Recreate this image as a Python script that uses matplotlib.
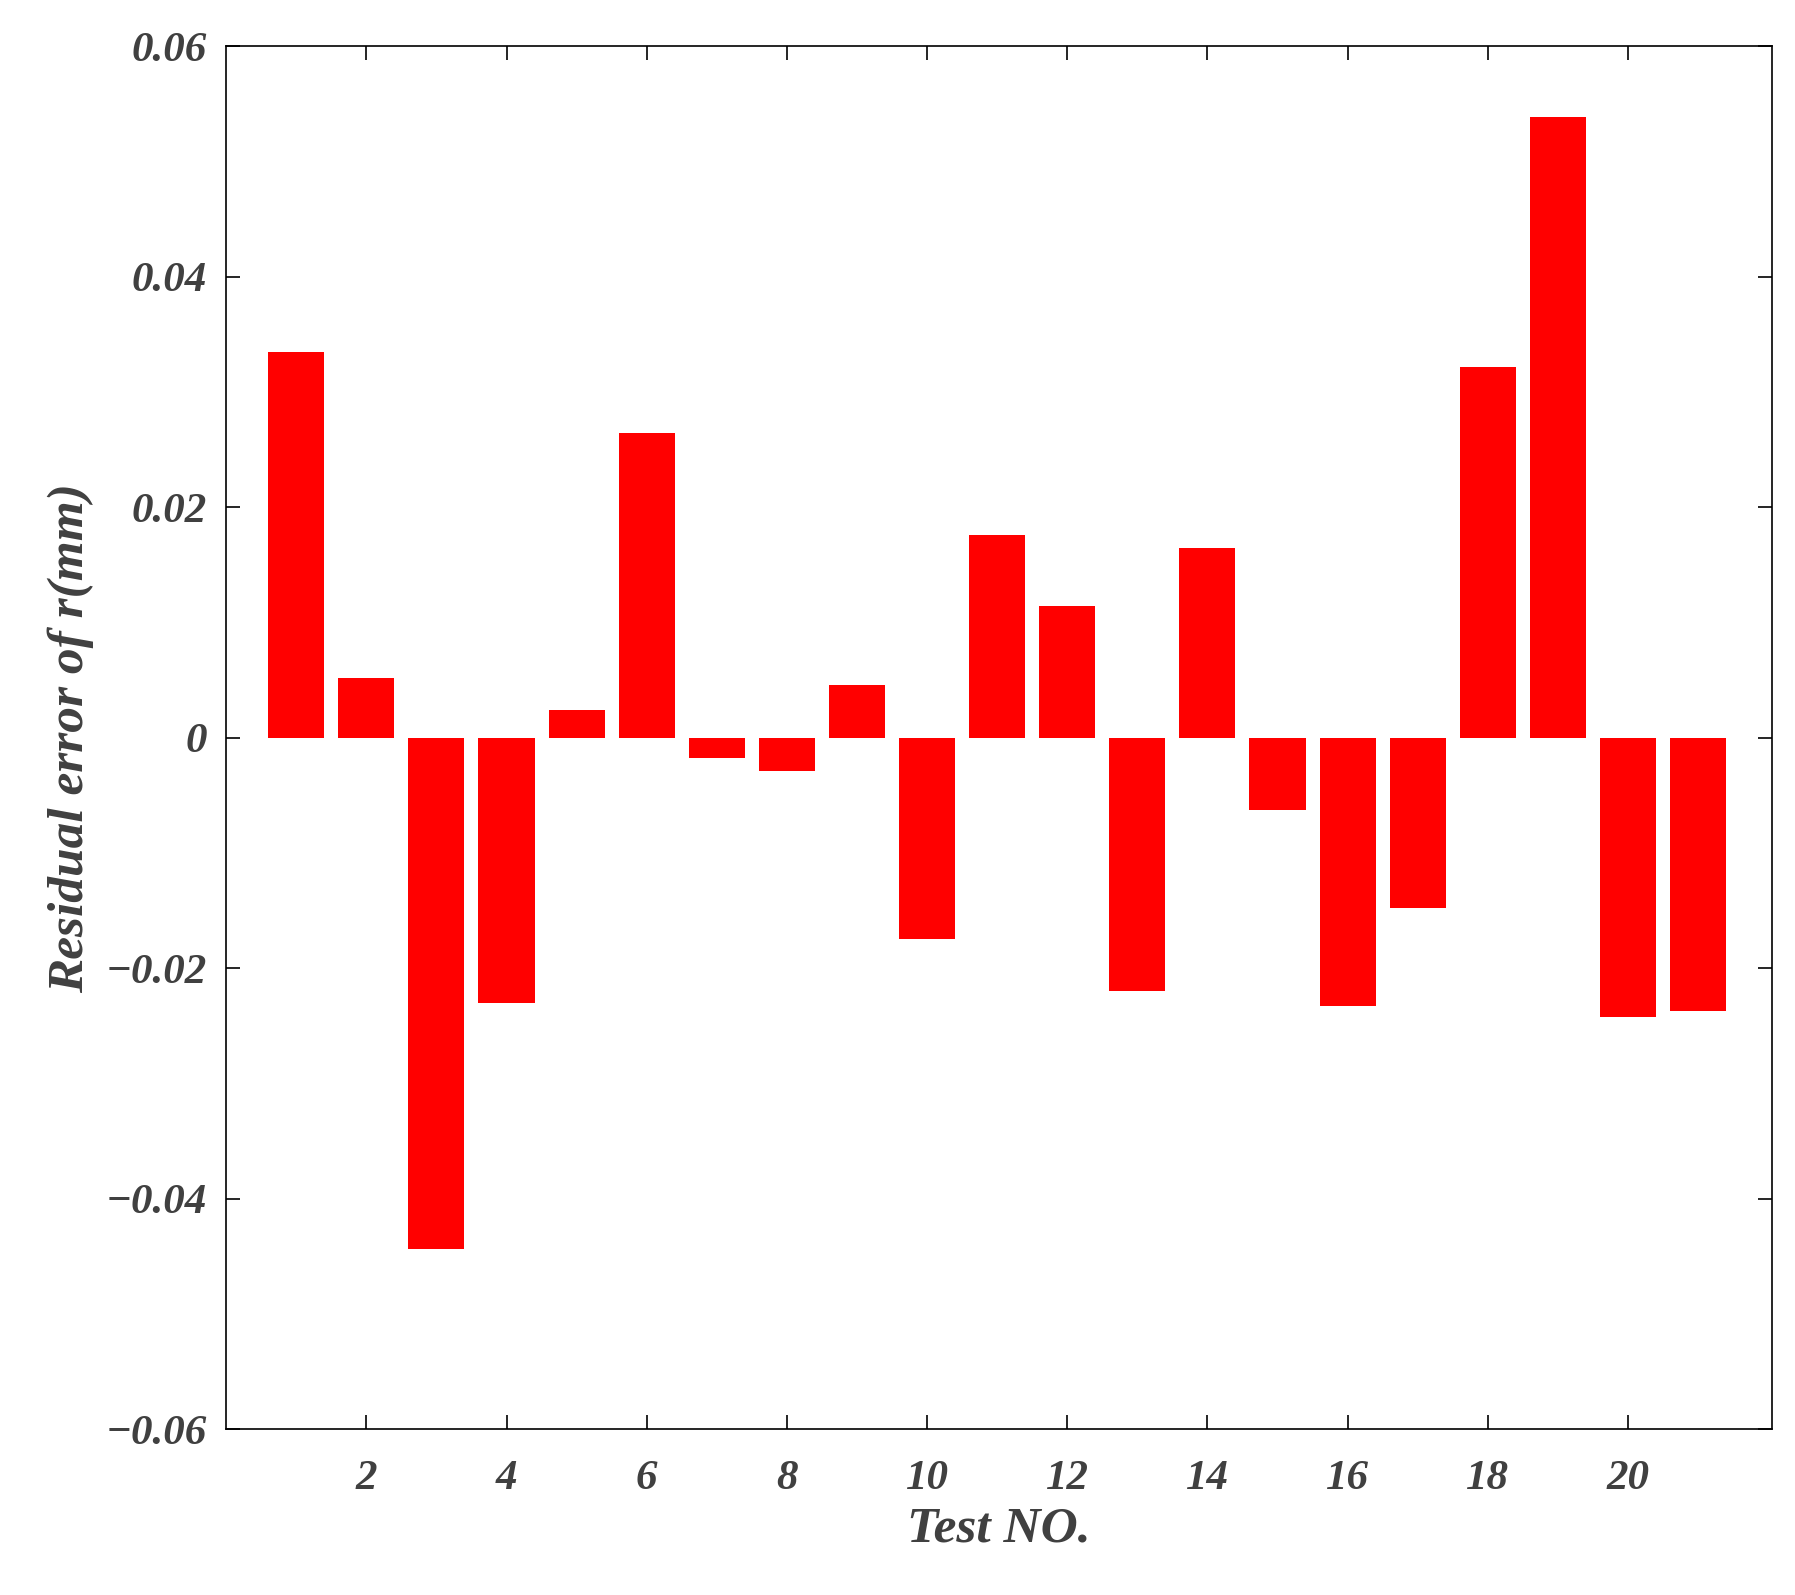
import matplotlib
matplotlib.use("Agg")
import matplotlib.pyplot as plt

tests = list(range(1, 22))
residuals = [0.0335, 0.0052, -0.0444, -0.0230, 0.0024, 0.0264, -0.0018, -0.0029, 0.0046, -0.0175,
             0.0176, 0.0114, -0.0220, 0.0165, -0.0063, -0.0233, -0.0148, 0.0322, 0.0539, -0.0242, -0.0237]
xticks = [2, 4, 6, 8, 10, 12, 14, 16, 18, 20]
yticks = [-0.06, -0.04, -0.02, 0, 0.02, 0.04, 0.06]
ylabels = ['\u22120.06', '\u22120.04', '\u22120.02', '0', '0.02', '0.04', '0.06']

fnt = dict(family='Liberation Serif', weight='bold', style='italic', color='#404040')
fig = plt.figure(figsize=(17.95, 15.95), dpi=100)
ax = fig.add_axes([0.126, 0.104, 0.861, 0.867])
ax.bar(tests, residuals, width=0.8, color='#ff0000')
ax.set_xlim(0, 22.05)
ax.set_ylim(-0.06, 0.06)
ax.set_xticks(xticks)
ax.set_xticklabels([str(t) for t in xticks], fontsize=31, **fnt)
ax.set_yticks(yticks)
ax.set_yticklabels(ylabels, fontsize=31, **fnt)
ax.tick_params(axis='x', direction='in', length=10, width=1.2, top=True, pad=22)
ax.tick_params(axis='y', direction='in', length=10, width=1.2, right=True, pad=14)
for s in ax.spines.values():
    s.set_linewidth(1.2)
ax.set_xlabel('Test NO.', fontsize=37, labelpad=6, **fnt)
ax.set_ylabel('Residual error of r(mm)', fontsize=37, labelpad=8, **fnt)
fig.savefig('out.png', dpi=100)
